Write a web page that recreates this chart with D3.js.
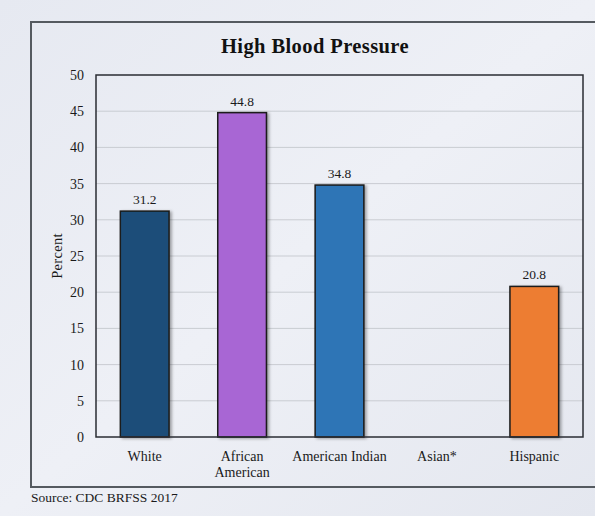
<!DOCTYPE html>
<html>
<head>
<meta charset="utf-8">
<script src="https://cdn.jsdelivr.net/npm/d3@7"></script>
<style>
  body { margin: 0; background: #e9ecf3; }
  svg { display: block; font-family: "Liberation Serif", "DejaVu Serif", serif; }
</style>
</head>
<body>
<svg id="chart"></svg>
<script>
const categories = ["White", "African American", "American Indian", "Asian*", "Hispanic"];
const values = [31.2, 44.8, 34.8, null, 20.8];
const colors = ["#1f4e79", "#a866d4", "#2e75b6", "#888888", "#ed7d31"];
const yTicks = [0, 5, 10, 15, 20, 25, 30, 35, 40, 45, 50];

const width = 595, height = 516;
const margin = { top: 75, right: 12, bottom: 79, left: 96 };
const innerW = width - margin.left - margin.right;
const innerH = height - margin.top - margin.bottom;

const svg = d3.select("#chart").attr("width", width).attr("height", height);

const defs = svg.append("defs");
const bg = defs.append("linearGradient").attr("id", "bg").attr("x1", 0).attr("y1", 0).attr("x2", 1).attr("y2", 1);
bg.append("stop").attr("offset", "0%").attr("stop-color", "#e6e9f1");
bg.append("stop").attr("offset", "50%").attr("stop-color", "#eef0f6");
bg.append("stop").attr("offset", "100%").attr("stop-color", "#e4e7ef");
const shadow = defs.append("filter").attr("id", "shadow").attr("x", "-20%").attr("y", "-20%").attr("width", "150%").attr("height", "150%");
shadow.append("feDropShadow").attr("dx", 2).attr("dy", 1).attr("stdDeviation", 1.5).attr("flood-color", "#000").attr("flood-opacity", 0.35);

svg.append("rect").attr("width", width).attr("height", height).attr("fill", "url(#bg)");

// outer frame (open on the right side)
svg.append("path")
  .attr("d", `M${width},22 H31 V487 H${width}`)
  .attr("fill", "none")
  .attr("stroke", "#555a60")
  .attr("stroke-width", 2);

const chart = svg.append("g").attr("transform", `translate(${margin.left},${margin.top})`);

const x = d3.scaleBand().domain(categories).range([0, innerW]).paddingInner(0.5).paddingOuter(0.25);
const y = d3.scaleLinear().domain([0, 50]).range([innerH, 0]);

// gridlines
chart.append("g")
  .selectAll("line")
  .data(yTicks.slice(1, -1))
  .join("line")
  .attr("x1", 0).attr("x2", innerW)
  .attr("y1", d => y(d)).attr("y2", d => y(d))
  .attr("stroke", "#c9ccd2")
  .attr("stroke-width", 1);

// y axis labels
const yAxis = chart.append("g")
  .call(d3.axisLeft(y).tickValues(yTicks).tickSize(0).tickPadding(12));
yAxis.select(".domain").remove();
yAxis.selectAll("text")
  .attr("font-family", "Liberation Serif, serif")
  .attr("font-size", 14)
  .attr("fill", "#1a1a1a");

// bars
chart.selectAll(".bar")
  .data(categories.map((c, i) => ({ c, v: values[i], color: colors[i] })).filter(d => d.v != null))
  .join("rect")
  .attr("class", "bar")
  .attr("x", d => x(d.c))
  .attr("y", d => y(d.v))
  .attr("width", x.bandwidth())
  .attr("height", d => innerH - y(d.v))
  .attr("fill", d => d.color)
  .attr("stroke", "#1a1a1a")
  .attr("stroke-width", 1.5)
  .attr("filter", "url(#shadow)");

// value labels
chart.selectAll(".val")
  .data(categories.map((c, i) => ({ c, v: values[i] })).filter(d => d.v != null))
  .join("text")
  .attr("class", "val")
  .attr("x", d => x(d.c) + x.bandwidth() / 2)
  .attr("y", d => y(d.v) - 7)
  .attr("text-anchor", "middle")
  .attr("font-size", 13.5)
  .attr("fill", "#1a1a1a")
  .text(d => d.v.toFixed(1));

// plot border
chart.append("rect")
  .attr("width", innerW).attr("height", innerH)
  .attr("fill", "none")
  .attr("stroke", "#2a2d33")
  .attr("stroke-width", 1.5);

// category labels
const xAxis = chart.append("g")
  .attr("transform", `translate(0,${innerH})`)
  .call(d3.axisBottom(x).tickSize(0).tickPadding(14));
xAxis.select(".domain").remove();
xAxis.selectAll("text")
  .attr("font-family", "Liberation Serif, serif")
  .attr("font-size", 14)
  .attr("fill", "#1a1a1a")
  .each(function (d) {
    const t = d3.select(this);
    if (d === "African American") {
      t.text(null);
      t.append("tspan").attr("x", 0).attr("dy", "0.71em").text("African");
      t.append("tspan").attr("x", 0).attr("dy", "1.15em").text("American");
    }
  });

// title
svg.append("text")
  .attr("x", 315).attr("y", 53)
  .attr("text-anchor", "middle")
  .attr("font-size", 20.5)
  .attr("font-weight", "bold")
  .attr("letter-spacing", 0.4)
  .attr("fill", "#111")
  .text("High Blood Pressure");

// y label
svg.append("text")
  .attr("transform", `translate(62,${margin.top + innerH / 2}) rotate(-90)`)
  .attr("text-anchor", "middle")
  .attr("font-size", 14.5)
  .attr("letter-spacing", 0.3)
  .attr("fill", "#1a1a1a")
  .text("Percent");

// source
svg.append("text")
  .attr("x", 31).attr("y", 502)
  .attr("font-size", 13.5)
  .attr("fill", "#1a1a1a")
  .text("Source: CDC BRFSS 2017");
</script>
</body>
</html>
